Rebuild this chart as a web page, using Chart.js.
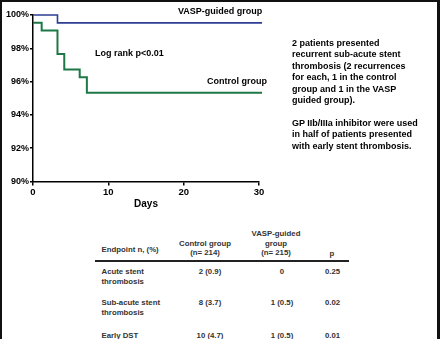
<!DOCTYPE html>
<html>
<head>
<meta charset="utf-8">
<script src="https://cdn.jsdelivr.net/npm/chart.js@4.4.0/dist/chart.umd.min.js"></script>
<style>
  html, body { margin:0; padding:0; background:#fff; }
  #page { position:relative; width:440px; height:339px; overflow:hidden; background:#fff;
          font-family: Arial, "Liberation Sans", sans-serif; }
  #frame { position:absolute; left:0; top:0; width:440px; height:339px; box-sizing:border-box;
           border-left:2px solid #111; border-top:2px solid #111; border-right:3px solid #111; pointer-events:none; }
  #chartBox { position:absolute; left:0; top:0; width:440px; height:215px; }
  .t { position:absolute; white-space:nowrap; font-weight:bold; color:#000; font-size:9px; line-height:11px; }
  .note { position:absolute; left:292px; top:38px; font-weight:bold; font-size:9px; line-height:11.4px; color:#000; white-space:nowrap; }
  .c { position:absolute; white-space:nowrap; font-weight:bold; font-size:7.8px; color:#333; transform:translate(-50%,-50%); line-height:9px; }
  .l { position:absolute; white-space:nowrap; font-weight:bold; font-size:7.8px; color:#333; transform:translateY(-50%); line-height:9px; }
  #rule { position:absolute; left:95px; top:260px; width:254px; height:1.5px; background:#222; }
</style>
</head>
<body>
<div id="page">
  <div id="chartBox"><canvas id="km" width="440" height="215"></canvas></div>

  <div class="t" style="left:178px; top:6px;">VASP-guided group</div>
  <div class="t" style="left:95px; top:48px;">Log rank p&lt;0.01</div>
  <div class="t" style="left:207px; top:76px;">Control group</div>

  <div class="note">2 patients presented<br>recurrent sub-acute stent<br>thrombosis (2 recurrences<br>for each, 1 in the control<br>group and 1 in the VASP<br>guided group).<br><br>GP IIb/IIIa inhibitor were used<br>in half of patients presented<br>with early stent thrombosis.</div>

  <div id="table"></div>
  <div id="rule"></div>
  <div id="frame"></div>
</div>
<script>
// Kaplan-Meier steps (days, % free of stent thrombosis)
const vaspDays = [0, 3.25, 30.4];
const vaspSurv = [100, 99.53, 99.53];
const controlDays = [0, 1.15, 3.25, 4.15, 6.2, 7.15, 30.4];
const controlSurv = [99.53, 99.07, 97.66, 96.73, 96.26, 95.33, 95.33];

const yTicks = [90, 92, 94, 96, 98, 100];

// table
const headerCols = [
  { x:205, lines:['Control group', '(n= 214)'], y:[243, 252] },
  { x:276, lines:['VASP-guided', 'group', '(n= 215)'], y:[233, 243, 252] },
  { x:332, lines:['p'], y:[253] }
];
const rowLabels = [['Acute stent', 'thrombosis'], ['Sub-acute stent', 'thrombosis'], ['Early DST']];
const rowY = [271, 302, 335];
const controlCol = ['2 (0.9)', '8 (3.7)', '10 (4.7)'];
const vaspCol = ['0', '1 (0.5)', '1 (0.5)'];
const pCol = ['0.25', '0.02', '0.01'];

const toPts = (xs, ys) => xs.map((x, i) => ({ x, y: ys[i] }));

const tbl = document.getElementById('table');
const addCell = (cls, x, y, text) => {
  const d = document.createElement('div');
  d.className = cls; d.style.left = x + 'px'; d.style.top = y + 'px'; d.textContent = text;
  tbl.appendChild(d);
};
addCell('l', 101.5, 249, 'Endpoint n, (%)');
headerCols.forEach(h => h.lines.forEach((s, i) => addCell('c', h.x, h.y[i], s)));
rowLabels.forEach((lines, r) => lines.forEach((s, i) => addCell('l', 101.5, rowY[r] + i * 9.5, s)));
controlCol.forEach((s, r) => addCell('c', 210, rowY[r], s));
vaspCol.forEach((s, r) => addCell('c', 282, rowY[r], s));
pCol.forEach((s, r) => addCell('c', 332.5, rowY[r], s));

const tickFont = { family:'Arial, "Liberation Sans", sans-serif', weight:'bold', size:9 };

new Chart(document.getElementById('km').getContext('2d'), {
  type: 'line',
  data: {
    datasets: [
      { label:'VASP-guided group', data: toPts(vaspDays, vaspSurv), stepped:'before',
        borderColor:'#2d3e92', borderWidth:1.6, pointRadius:0, fill:false, clip:false },
      { label:'Control group', data: toPts(controlDays, controlSurv), stepped:'before',
        borderColor:'#1d7846', borderWidth:2, pointRadius:0, fill:false, clip:false }
    ]
  },
  options: {
    responsive:false, animation:false,
    layout: { padding: { left:0, right:181, top:15, bottom:0 } },
    plugins: { legend:{ display:false }, tooltip:{ enabled:false } },
    scales: {
      x: {
        type:'linear', min:0, max:30,
        afterFit: s => { s.height = 33.5; },
        ticks: { stepSize:10, color:'#000', font:{ ...tickFont, size:9.5 }, padding:1, maxRotation:0 },
        grid: { drawOnChartArea:false, drawTicks:true, tickLength:4, color:'#000', lineWidth:1.5 },
        border: { display:true, color:'#000', width:1.5 },
        title: { display:true, text:'Days', color:'#000', font:{ ...tickFont, size:10 }, padding:{ top:0, bottom:5 } }
      },
      y: {
        min:90, max:100,
        afterFit: s => { s.width = 33; },
        afterBuildTicks: s => { s.ticks = yTicks.map(v => ({ value:v })); },
        ticks: { color:'#000', font:tickFont, padding:1, callback: v => v + '%' },
        grid: { drawOnChartArea:false, drawTicks:true, tickLength:3, color:'#000', lineWidth:1.5 },
        border: { display:true, color:'#000', width:1.5 }
      }
    }
  }
});
</script>
</body>
</html>
